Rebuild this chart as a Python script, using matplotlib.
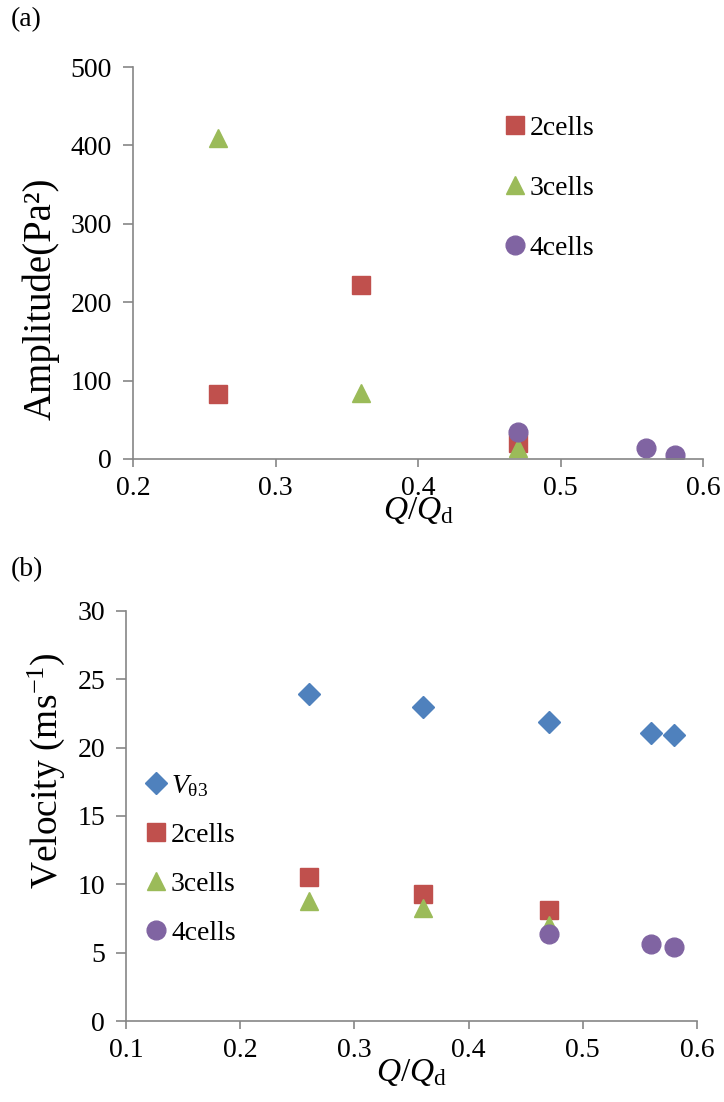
import matplotlib
matplotlib.use("Agg")
import matplotlib.pyplot as plt

plt.rcParams['font.family'] = ['Liberation Serif', 'DejaVu Serif']
plt.rcParams['mathtext.fontset'] = 'custom'
plt.rcParams['mathtext.rm'] = 'Liberation Serif'
plt.rcParams['mathtext.it'] = 'Liberation Serif:italic'

# (a) amplitude
a_x2 = [0.26, 0.36, 0.47]
a_y2 = [83, 222, 20]
a_x3 = [0.26, 0.36, 0.47]
a_y3 = [410, 84, 14]
a_x4 = [0.47, 0.56, 0.58]
a_y4 = [34, 14, 5]

# (b) velocity
b_xv = [0.26, 0.36, 0.47, 0.56, 0.58]
b_yv = [23.9, 23.0, 21.9, 21.1, 20.9]
b_x2 = [0.26, 0.36, 0.47]
b_y2 = [10.5, 9.3, 8.1]
b_x3 = [0.26, 0.36, 0.47]
b_y3 = [8.8, 8.3, 7.0]
b_x4 = [0.47, 0.56, 0.58]
b_y4 = [6.4, 5.6, 5.4]

c_blue = '#4F81BD'
c_red = '#C0504D'
c_green = '#9BBB59'
c_purple = '#8064A2'
grey = '#868686'

fig = plt.figure(figsize=(7.24, 11.02), dpi=100)
ax1 = fig.add_axes([0.1837, 0.5835, 0.971 - 0.1837, 0.9392 - 0.5835])
ax2 = fig.add_axes([0.174, 0.0735, 0.9627 - 0.174, 0.4456 - 0.0735])


def style(ax):
    for s in ['top', 'right']:
        ax.spines[s].set_visible(False)
    for s in ['left', 'bottom']:
        ax.spines[s].set_color(grey)
        ax.spines[s].set_linewidth(1.2)
    ax.tick_params(direction='out', length=6, width=1.2, color=grey,
                   labelsize=20, pad=6)
    ax.tick_params(axis='y', length=7, pad=8)


ax1.plot(a_x2, a_y2, 's', color=c_red, ms=13, label='2cells')
ax1.plot(a_x3, a_y3, '^', color=c_green, ms=13.5, label='3cells')
ax1.plot(a_x4, a_y4, 'o', color=c_purple, ms=13.5, label='4cells')
ax1.set_xlim(0.2, 0.6)
ax1.set_ylim(0, 500)
ax1.set_xticks([0.2, 0.3, 0.4, 0.5, 0.6])
ax1.set_yticks([0, 100, 200, 300, 400, 500])
style(ax1)
ax1.set_ylabel('Amplitude(Pa²)', fontsize=28)
ax1.yaxis.set_label_coords(-0.128, 0.41)
ax1.set_xlabel(r'$\it{Q}/\it{Q}_\mathrm{d}$', fontsize=24, labelpad=-4)
fig.legend(handles=ax1.get_lines(), loc='upper left',
           bbox_to_anchor=(0.6975, 0.8955), frameon=False, fontsize=20,
           handlelength=0.7, handletextpad=0.2, labelspacing=1.25,
           borderpad=0, borderaxespad=0)

ax2.plot(b_xv, b_yv, 'D', color=c_blue, ms=11.5, label=r'$\it{V}_{\mathrm{θ3}}$')
ax2.plot(b_x2, b_y2, 's', color=c_red, ms=13, label='2cells')
ax2.plot(b_x3, b_y3, '^', color=c_green, ms=13.5, label='3cells')
ax2.plot(b_x4, b_y4, 'o', color=c_purple, ms=13.5, label='4cells')
ax2.set_xlim(0.1, 0.6)
ax2.set_ylim(0, 30)
ax2.set_xticks([0.1, 0.2, 0.3, 0.4, 0.5, 0.6])
ax2.set_yticks([0, 5, 10, 15, 20, 25, 30])
style(ax2)
ax2.set_ylabel('Velocity (ms$^{-1}$)', fontsize=27)
ax2.yaxis.set_label_coords(-0.103, 0.61)
ax2.set_xlabel(r'$\it{Q}/\it{Q}_\mathrm{d}$', fontsize=24, labelpad=-4)
fig.legend(handles=ax2.get_lines(), loc='upper left',
           bbox_to_anchor=(0.2017, 0.2985), frameon=False, fontsize=20,
           handlelength=0.7, handletextpad=0.2, labelspacing=0.85,
           borderpad=0, borderaxespad=0)

fig.text(0.015, 0.982, '(a)', fontsize=20, va='center')
fig.text(0.015, 0.483, '(b)', fontsize=20, va='center')

fig.savefig('out.png', dpi=100)
